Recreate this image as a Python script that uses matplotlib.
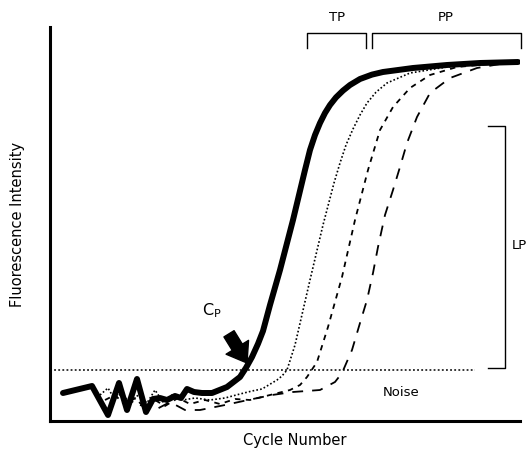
import matplotlib.pyplot as plt

plt.rcParams['font.family'] = ['DejaVu Sans']

# curves: x = cycle, y = fluorescence (arbitrary units)
main_x = [1.3, 4.2, 5.8, 6.9, 7.7, 8.7, 9.6, 10.3, 11.0, 11.7, 12.5, 13.1, 13.7, 14.4, 15.2, 16.2,
          17.7, 19.0, 19.6, 20.2, 20.8, 21.3, 22.0, 23.0, 24.3, 25.5, 26.0, 26.5, 27.0, 27.5,
          28.0, 28.6, 29.3, 30.0, 31.0, 32.2, 33.3, 36.3, 39.7, 43.0, 46.8]
main_y = [7, 8.75, 1.5, 9.5, 2.75, 10.5, 2.25, 5.5, 5.75, 5.25, 6.25, 5.75, 8, 7.25, 7, 7,
          8.5, 11, 13.3, 16, 19.3, 22.5, 29, 37.75, 50.25, 62.75, 67.75, 71.5, 74.5, 77,
          79, 80.9, 82.6, 84, 85.5, 86.6, 87.25, 88.25, 89, 89.5, 89.75]

dot_x = [5.0, 5.8, 6.5, 7.2, 8.0, 8.8, 9.7, 10.5, 11.3, 12.2, 13.3, 14.5, 16.0, 17.5, 19.0,
         20.2, 21.2, 22.7, 23.2, 23.7, 24.5, 26.0, 27.3, 28.4, 29.0, 29.6, 30.3, 31.0, 31.7,
         32.6, 33.7, 36.0, 39.7, 43.0, 46.8]
dot_y = [6.5, 8.25, 5.25, 7.25, 4, 6.5, 4.5, 7.75, 4.75, 6.5, 5.25, 5.75, 5.25, 5.75, 6.75,
         7.5, 8, 10.25, 11.25, 12.75, 19, 35.25, 49, 59.5, 64.5, 69, 73, 76.5, 79.5,
         82.2, 84.5, 87, 88.5, 89.25, 89.75]

dash1_x = [5.5, 6.5, 7.5, 8.5, 9.5, 10.5, 11.5, 12.8, 14.0, 15.5, 17.0, 18.5, 20.0, 22.0,
           24.0, 25.0, 25.7, 26.7, 27.8, 29.2, 30.5, 31.8, 33.0, 34.3, 36.0, 38.0, 40.7,
           44.0, 46.8]
dash1_y = [5.25, 6.5, 4, 5.75, 3.25, 5.25, 3.75, 5.75, 4.25, 5.25, 4.25, 5.5, 5.25, 6.5,
           7.75, 9, 11, 14.75, 23.5, 36, 50.25, 62.75, 72.75, 78.5, 83.25, 86.5, 88.5,
           89.25, 89.75]

dash2_x = [9.0, 10.5, 12.0, 13.5, 15.0, 17.5, 19.8, 22.2, 24.3, 27.0, 28.5, 29.2, 30.2,
           31.0, 31.7, 32.3, 32.8, 33.5, 34.3, 35.0, 35.7, 36.7, 38.0, 40.0, 42.7, 45.0, 46.8]
dash2_y = [4, 2.75, 4.75, 2.75, 2.75, 4, 5.25, 6.5, 7.25, 7.75, 9.75, 12, 17.75,
           24.5, 30.25, 37, 43.5, 51.5, 57.75, 63.5, 69.5, 76, 82, 85.75, 88.25, 89.25, 89.75]

threshold = 12.75

fig = plt.figure(figsize=(5.32, 4.53), dpi=100)
ax = fig.add_axes([50/532, 32/453, 470/532, 394/453])
ax.set_xlim(0, 47)
ax.set_ylim(0, 98.5)

ax.plot(dash2_x, dash2_y, color='black', lw=1.3, linestyle=(0, (6, 5)))
ax.plot(dash1_x, dash1_y, color='black', lw=1.3, linestyle=(0, (3, 3)))
ax.plot(dot_x, dot_y, color='black', lw=1.2, linestyle=(0, (1, 1.3)))
ax.plot(main_x, main_y, color='black', lw=4.3, solid_joinstyle='round', solid_capstyle='round')

ax.plot([0, 42.5], [threshold, threshold], color='black', lw=1.1, linestyle=(0, (1.2, 1.5)))

for s in ['top', 'right']:
    ax.spines[s].set_visible(False)
for s in ['left', 'bottom']:
    ax.spines[s].set_linewidth(2.2)
ax.set_xticks([])
ax.set_yticks([])
ax.set_xlabel('Cycle Number', fontsize=10.5)
ax.set_ylabel('Fluorescence Intensity', fontsize=10.5, labelpad=18)
ax.xaxis.set_label_coords(0.52, -0.03)

# phase brackets
ax.plot([25.7, 25.7, 31.6, 31.6], [93.25, 97, 97, 93.25], color='black', lw=1, clip_on=False)
ax.plot([32.2, 32.2, 47.1, 47.1], [93.25, 97, 97, 93.25], color='black', lw=1, clip_on=False)
ax.text(28.7, 100.8, 'TP', fontsize=9.5, ha='center', va='center', clip_on=False)
ax.text(39.6, 100.8, 'PP', fontsize=9.5, ha='center', va='center', clip_on=False)
ax.plot([43.8, 45.5, 45.5, 43.8], [73.75, 73.75, 13.25, 13.25], color='black', lw=1, clip_on=False)
ax.text(46.2, 44, 'LP', fontsize=9.5, ha='left', va='center', clip_on=False)
ax.text(35.1, 7, 'Noise', fontsize=9.5, ha='center', va='center')

ax.text(16.2, 27.5, r'C$_\mathregular{P}$', fontsize=11.5, ha='center', va='center')
ax.annotate('', xy=(19.7, 14.5), xytext=(17.9, 21.8),
            arrowprops=dict(arrowstyle='simple,head_length=0.7,head_width=1.0,tail_width=0.45',
                            color='black', mutation_scale=19, shrinkA=0, shrinkB=0))

fig.savefig('out.png')
